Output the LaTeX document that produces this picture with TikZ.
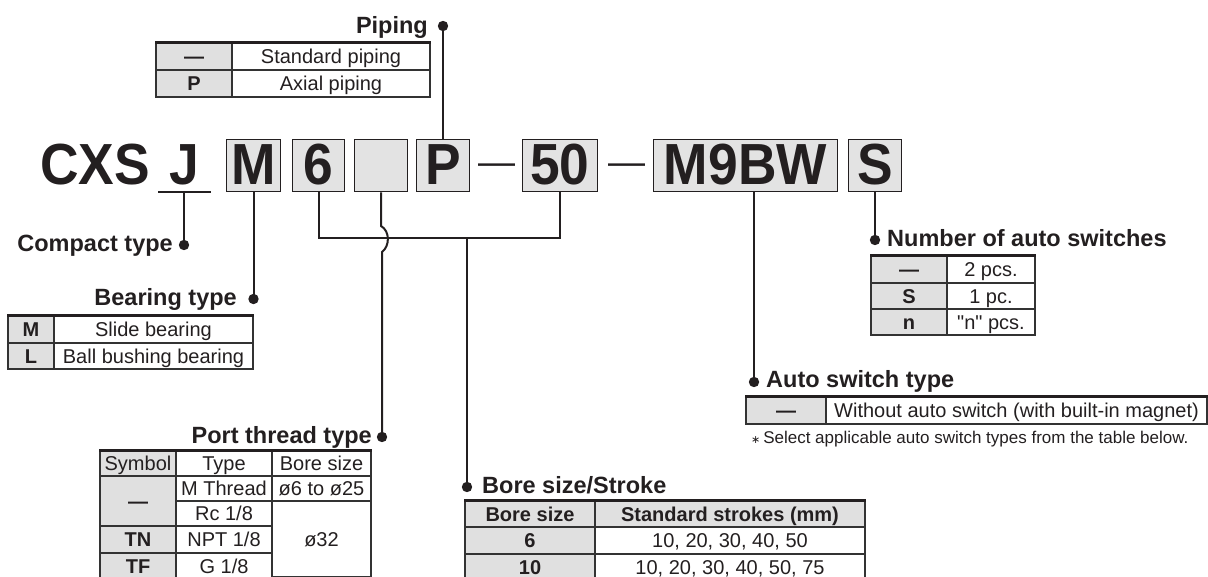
\documentclass[tikz,border=0pt]{standalone}
\usepackage{fontspec}
\usepackage{graphicx}
\setmainfont{Liberation Sans}
\newfontfamily\plainfont{Liberation Sans}
\newfontfamily\dejavu{DejaVu Sans}
\definecolor{ink}{HTML}{231F20}
\definecolor{boxfill}{HTML}{E3E3E3}
\definecolor{cellfill}{HTML}{E0E0E0}
\definecolor{rulec}{HTML}{333333}
\tikzset{
 codebox/.style={draw=ink, line width=1.8pt, fill=boxfill, inner sep=0pt, minimum height=52pt, text height=39pt, text depth=0pt, font=\fontsize{58}{58}\selectfont\bfseries, text=ink},
 codetext/.style={inner sep=0pt, anchor=base, font=\fontsize{58}{58}\selectfont\bfseries, text=ink},
 dashtext/.style={inner sep=0pt, anchor=base, font=\fontsize{37}{37}\selectfont, text=ink},
 lbl/.style={inner sep=0pt, font=\fontsize{23.5}{23.5}\selectfont\bfseries, text=ink},
 dotfill/.style={fill=ink},
 conn/.style={draw=ink, line width=2pt},
 cell/.style={draw=rulec, line width=1.1pt, inner sep=0pt, text height=14.3pt, text depth=0pt, font=\fontsize{20}{20}\selectfont, text=ink},
 gcell/.style={cell, fill=cellfill},
 bcell/.style={gcell, font=\fontsize{20}{20}\selectfont\bfseries},
 topline/.style={draw=ink, line width=2.4pt},
}
\newcommand\tcell[7][]{\node[cell,#1,minimum width={(#5-#3)*1pt},minimum height={(#6-#4)*1pt}] (#2) at ({(#3+#5)/2},{(#4+#6)/2}) {#7};}
\begin{document}
\begin{tikzpicture}[x=1pt,y=-1pt]
\useasboundingbox (0,0) rectangle (1208,577);

% ---- code row ----
\node[codetext] (cxs) at (95,185) {\scalebox{0.92}[1]{CXS}};
\node[codetext] (jl) at (184,185) {\scalebox{0.92}[1]{J}};
\coordinate (jL) at (158,192);
\coordinate (jR) at (211,192);
\draw[conn] (jL) -- (jR);
\node[codebox, minimum width=54pt] (bM) at (253.5,165.5) {\scalebox{0.92}[1]{M}};
\node[codebox, minimum width=52pt] (bSix) at (318.5,165.5) {\scalebox{0.92}[1]{6}};
\node[codebox, minimum width=53pt] (bE) at (381,165.5) {};
\node[codebox, minimum width=53pt] (bP) at (443,165.5) {\scalebox{0.92}[1]{P}};
\node[dashtext] (dash1) at (496.5,175) {—};
\node[codebox, minimum width=75pt] (b50) at (560,165.5) {\scalebox{0.92}[1]{50}};
\node[dashtext] (dash2) at (626.5,175) {—};
\node[codebox, minimum width=184pt] (bMW) at (745.5,165.5) {\scalebox{0.92}[1]{M9BW}};
\node[codebox, minimum width=53pt] (bS) at (875,165.5) {\scalebox{0.92}[1]{S}};

% ---- dot positions and labels ----
\coordinate (dJ) at (184,245);
\node[lbl, anchor=base east] (lJ) at (173,252) {Compact type};
\coordinate (dM) at (253.5,299);
\node[lbl, anchor=base east] (lM) at (237,306) {Bearing type};
\coordinate (dP) at (443,26);
\node[lbl, anchor=base east] (lP) at (428,34) {Piping};
\coordinate (dE) at (382,437);
\node[lbl, anchor=base east] (lE) at (372,443) {Port thread type};
\coordinate (dB) at (467,487);
\node[lbl, anchor=base west] (lB) at (482,493) {Bore size/Stroke};
\coordinate (dMW) at (754,382);
\node[lbl, anchor=base west] (lMW) at (766,388) {Auto switch type};
\coordinate (dS) at (875,240);
\node[lbl, anchor=base west] (lS) at (887,247) {Number of auto switches};

% ---- connectors ----
\coordinate (jU) at (184,192);
\draw[conn] (jU) -- (dJ);
\draw[conn] (bM.south) -- (dM);
\draw[conn] (bP.north) -- (dP);
\coordinate (hL) at (318.5,238);
\coordinate (hR) at (560,238);
\draw[conn] (bSix.south) -- (hL) -- (hR) -- (b50.south);
\coordinate (hB) at (467,238);
\draw[conn] (hB) -- (dB);
\coordinate (e1) at (381,226);
\coordinate (e2) at (382,252);
\draw[conn] (bE.south) -- (e1) .. controls (390,231) and (390,246) .. (e2) -- (dE);
\coordinate (mU) at (754,192);
\draw[conn] (mU) -- (dMW);
\draw[conn] (bS.south) -- (dS);
\foreach \d in {dJ,dM,dP,dE,dB,dMW,dS} \fill[dotfill] (\d) circle[radius=5.2pt];

% ---- Piping table ----
\tcell[bcell]{p11}{156}{43}{232}{70}{—}
\tcell{p12}{232}{43}{430}{70}{Standard piping}
\tcell[bcell]{p21}{156}{70}{232}{97}{P}
\tcell{p22}{232}{70}{430}{97}{Axial piping}
\draw[topline] (p11.north west) -- (p12.north east);

% ---- Bearing table ----
\tcell[bcell]{m11}{8}{316}{54}{343}{M}
\tcell{m12}{54}{316}{253}{343}{Slide bearing}
\tcell[bcell]{m21}{8}{343}{54}{369}{L}
\tcell{m22}{54}{343}{253}{369}{Ball bushing bearing}
\draw[topline] (m11.north west) -- (m12.north east);

% ---- Port thread table ----
\tcell[gcell]{t11}{100}{451}{176}{476}{Symbol}
\tcell{t12}{176}{451}{272}{476}{Type}
\tcell{t13}{272}{451}{371}{476}{Bore size}
\tcell[bcell]{t21}{100}{476}{176}{526}{—}
\tcell{t22}{176}{476}{272}{501}{M Thread}
\tcell{t23}{272}{476}{371}{501}{ø6 to ø25}
\tcell{t32}{176}{501}{272}{526}{Rc 1/8}
\tcell[bcell]{t41}{100}{526}{176}{553}{TN}
\tcell{t42}{176}{526}{272}{553}{NPT 1/8}
\tcell[bcell]{t51}{100}{553}{176}{580}{TF}
\tcell{t52}{176}{553}{272}{580}{G 1/8}
\tcell{t33}{272}{501}{371}{577}{ø32}
\draw[topline] (t11.north west) -- (t13.north east);

% ---- Bore size table ----
\tcell[bcell]{s11}{465}{501}{595}{527}{Bore size}
\tcell[bcell]{s12}{595}{501}{865}{527}{Standard strokes (mm)}
\tcell[bcell]{s21}{465}{527}{595}{554}{6}
\tcell{s22}{595}{527}{865}{554}{10, 20, 30, 40, 50}
\tcell[bcell]{s31}{465}{554}{595}{581}{10}
\tcell{s32}{595}{554}{865}{581}{10, 20, 30, 40, 50, 75}
\draw[topline] (s11.north west) -- (s12.north east);

% ---- Number of auto switches table ----
\tcell[bcell]{n11}{871}{256}{947}{283}{—}
\tcell{n12}{947}{256}{1035}{283}{2 pcs.}
\tcell[bcell]{n21}{871}{283}{947}{309}{S}
\tcell{n22}{947}{283}{1035}{309}{1 pc.}
\tcell[bcell]{n31}{871}{309}{947}{335}{n}
\tcell{n32}{947}{309}{1035}{335}{{\plainfont "n" pcs.}}
\draw[topline] (n11.north west) -- (n12.north east);

% ---- Auto switch type table ----
\tcell[bcell]{a11}{746}{397}{826}{424}{—}
\tcell{a12}{826}{397}{1207}{424}{Without auto switch (with built-in magnet)}
\draw[topline] (a11.north west) -- (a12.north east);
\node[anchor=base west, inner sep=0pt, font=\fontsize{17}{17}\selectfont, text=ink] (fn) at (751,443) {{\dejavu\fontsize{11}{11}\selectfont ∗}\,Select applicable auto switch types from the table below.};
\end{tikzpicture}
\end{document}
